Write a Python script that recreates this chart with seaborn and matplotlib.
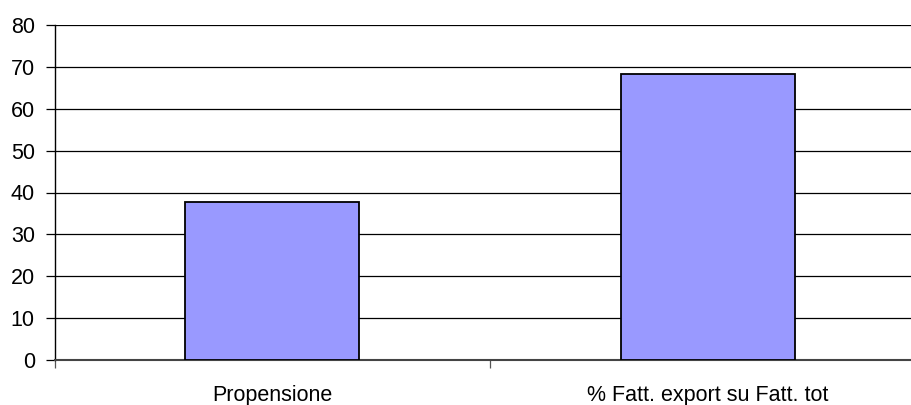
import matplotlib
matplotlib.use("Agg")
import matplotlib.pyplot as plt
import seaborn as sns
import pandas as pd

categories = ["Propensione", "% Fatt. export su Fatt. tot"]
values = [37.7, 68.3]
y_ticks = [0, 10, 20, 30, 40, 50, 60, 70, 80]

sns.set_style("white")
plt.rcParams["font.family"] = ["Liberation Sans", "DejaVu Sans"]
plt.rcParams["text.color"] = "black"
plt.rcParams["xtick.labelcolor"] = "black"
plt.rcParams["ytick.labelcolor"] = "black"

df = pd.DataFrame({"categoria": categories, "valore": values})

fig = plt.figure(figsize=(9.12, 4.05), dpi=100)
ax = fig.add_axes([55 / 912, 45 / 405, 870 / 912, 335 / 405])

sns.barplot(data=df, x="categoria", y="valore", color="#9999FF",
            saturation=1, width=0.4, edgecolor="black", linewidth=1.3,
            ax=ax, zorder=3)

ax.set_ylim(0, 80)
ax.set_xlim(-0.5, 1.5)
ax.set_yticks(y_ticks)
ax.yaxis.grid(True, color="black", linewidth=0.9)
ax.set_axisbelow(True)

for side in ("top", "right"):
    ax.spines[side].set_visible(False)
ax.spines["left"].set_color("black")
ax.spines["left"].set_linewidth(1.0)
ax.spines["bottom"].set_color("#444444")
ax.spines["bottom"].set_linewidth(1.5)

ax.set_xlabel("")
ax.set_ylabel("")
ax.tick_params(axis="y", which="major", length=6.5, width=0.9, color="black",
               labelsize=15.5, pad=8, left=True, labelcolor="black")
ax.tick_params(axis="x", which="major", length=0, labelsize=15.5, pad=18,
               labelcolor="black")
ax.set_xticks([-0.5, 0.5, 1.5], minor=True)
ax.tick_params(axis="x", which="minor", length=6, width=0.9, color="#555555",
               bottom=True)

fig.savefig("out.png", dpi=100)
